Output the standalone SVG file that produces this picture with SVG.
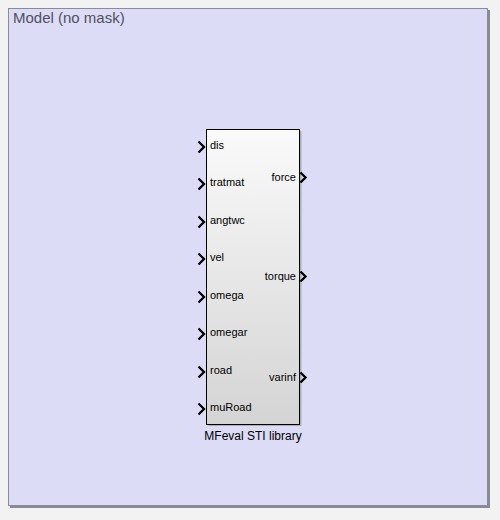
<svg xmlns="http://www.w3.org/2000/svg" width="500" height="520" viewBox="0 0 500 520">
<defs>
<linearGradient id="blk" x1="0" y1="0" x2="0" y2="1">
<stop offset="0" stop-color="#fafafa"/>
<stop offset="1" stop-color="#d4d4d4"/>
</linearGradient>
</defs>
<style>
.lbl{font-family:"Liberation Sans",Arial,sans-serif;font-size:11px;fill:#000}
.port{fill:none;stroke:#000;stroke-width:2.3}
</style>
<rect x="0" y="0" width="500" height="520" fill="#f2f2f2"/>
<g id="model">
<rect x="10" y="10" width="480" height="498" fill="#8a8a96"/>
<rect x="8.5" y="8.5" width="479" height="497" fill="#dcdcf6" stroke="#8a8a9a" stroke-width="1"/>
<text x="13" y="23" font-family="'Liberation Sans',Arial,sans-serif" font-size="15" fill="#505060">Model (no mask)</text>
</g>
<g id="block">
<rect x="208.5" y="131" width="93" height="295" fill="#8e8e8e" opacity="0.6"/>
<rect x="206.5" y="129.5" width="93" height="295" fill="url(#blk)" stroke="#000" stroke-width="1"/>
<text x="253" y="440" text-anchor="middle" font-family="'Liberation Sans',Arial,sans-serif" font-size="12" fill="#000">MFeval STI library</text>
<g>
<text x="210" y="149" class="lbl">dis</text>
<text x="210" y="186" class="lbl">tratmat</text>
<text x="210" y="224" class="lbl">angtwc</text>
<text x="210" y="261" class="lbl">vel</text>
<text x="210" y="299" class="lbl">omega</text>
<text x="210" y="336" class="lbl">omegar</text>
<text x="210" y="374" class="lbl">road</text>
<text x="210" y="411" class="lbl">muRoad</text>
<text x="296" y="181" text-anchor="end" class="lbl">force</text>
<text x="296" y="280" text-anchor="end" class="lbl">torque</text>
<text x="296" y="381" text-anchor="end" class="lbl">varinf</text>
</g>
<g class="port">
<path d="M198.5 141.5 L204 147 L198.5 152.5"/>
<path d="M198.5 178.5 L204 184 L198.5 189.5"/>
<path d="M198.5 216.5 L204 222 L198.5 227.5"/>
<path d="M198.5 253.5 L204 259 L198.5 264.5"/>
<path d="M198.5 291.5 L204 297 L198.5 302.5"/>
<path d="M198.5 328.5 L204 334 L198.5 339.5"/>
<path d="M198.5 366.5 L204 372 L198.5 377.5"/>
<path d="M198.5 403.5 L204 409 L198.5 414.5"/>
<path d="M300.5 172.5 L305.5 177.5 L300.5 182.5"/>
<path d="M300.5 271.5 L305.5 276.5 L300.5 281.5"/>
<path d="M300.5 372.5 L305.5 377.5 L300.5 382.5"/>
</g>
</g>
</svg>
